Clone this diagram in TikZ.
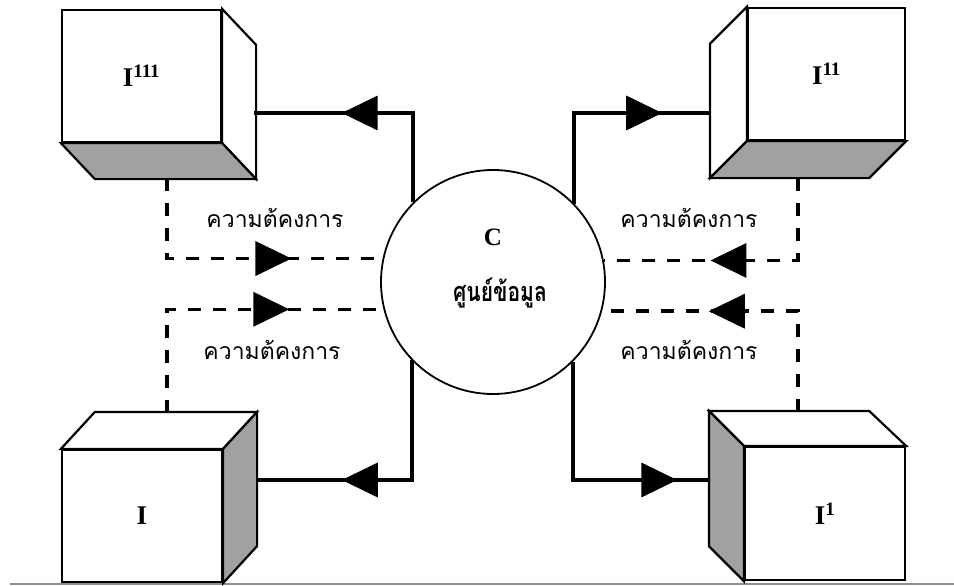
\documentclass[tikz,border=0pt]{standalone}
\usepackage{fontspec}
\setmainfont{Liberation Serif}
\newfontfamily\thaifont[Script=Thai]{Loma}
\usetikzlibrary{arrows.meta,decorations.markings,calc}
\begin{document}
\begin{tikzpicture}[x=1pt,y=-1pt,
  cubeline/.style={draw=black,line width=2.2pt,line join=miter},
  front/.style={cubeline,fill=white,rectangle,inner sep=0pt,font=\bfseries\fontsize{27}{32}\selectfont},
  shaded/.style={cubeline,fill=black!37},
  plain/.style={cubeline,fill=white},
  flow/.style={line width=3.6pt},
  req/.style={line width=3.6pt,dash pattern=on 13pt off 12pt},
  tip/.style={postaction={decorate},decoration={markings,mark=at position #1 with {\arrow{Triangle[length=36pt,width=34pt]}}}},
  lbl/.style={font=\thaifont\fontsize{23}{26}\selectfont,inner sep=0pt},
]
\fill[white] (0,0) rectangle (954,586);
\useasboundingbox (0,0) rectangle (954,586);
\draw[black!45,line width=1.5pt] (10,584) -- (954,584);

% top-left cube I^111
\node[front,minimum width=159pt,minimum height=132pt] (tl) at (141.5,76) {I\textsuperscript{111}};
\draw[plain] (tl.north east) -- ++(34,36) -- ($(tl.south east)+(34,36)$) -- (tl.south east) -- cycle;
\draw[shaded] (tl.south west) -- (tl.south east) -- ++(34,36) -- ($(tl.south west)+(34,36)$) -- cycle;

% top-right cube I^11
\node[front,minimum width=157pt,minimum height=132pt] (tr) at (826.5,74) {I\textsuperscript{11}};
\draw[plain] (tr.north west) -- ++(-37,37) -- ($(tr.south west)+(-37,37)$) -- (tr.south west) -- cycle;
\draw[shaded] (tr.south west) -- (tr.south east) -- ++(-37,37) -- ($(tr.south west)+(-37,37)$) -- cycle;

% bottom-left cube I
\node[front,minimum width=160pt,minimum height=132pt] (bl) at (142,516) {I};
\draw[plain] (bl.north west) -- ++(34,-37) -- ($(bl.north east)+(34,-37)$) -- (bl.north east) -- cycle;
\draw[shaded] (bl.north east) -- ++(34,-37) -- ($(bl.south east)+(34,-37)$) -- (bl.south east) -- cycle;

% bottom-right cube I^1
\node[front,minimum width=160pt,minimum height=133pt] (br) at (825,513.5) {I\textsuperscript{1}};
\draw[plain] (br.north east) -- ++(-37,-35) -- ($(br.north west)+(-35,-35)$) -- (br.north west) -- cycle;
\draw[shaded] (br.north west) -- ++(-35,-35) -- ($(br.south west)+(-35,-35)$) -- (br.south west) -- cycle;

% attachment points
\coordinate (tlS) at (254,113);
\coordinate (tlB) at (167,178);
\coordinate (trS) at (711,113);
\coordinate (trB) at (798,178);
\coordinate (blS) at (256,480);
\coordinate (blT) at (167,413);
\coordinate (brS) at (710,480);
\coordinate (brT) at (798,412);

% centre
\node[draw,circle,line width=1.8pt,minimum size=224pt,inner sep=0pt] (cen) at (493,282) {};
\node[font=\bfseries\fontsize{25}{28}\selectfont,inner sep=0pt] (cenC) at (493,237) {C};
\node[font=\thaifont\bfseries\fontsize{27}{30}\selectfont,inner sep=0pt] (cenT) at (500,293) {\scalebox{0.78}[1]{ศูนย์ข้อมูล}};

% solid flows
\draw[flow,tip=160.6pt] (cen.135.6) |- (tlS);
\draw[flow,tip=178.6pt] (cen.44.4) |- (trS);
\draw[flow,tip=189.6pt] (cen.224.4) |- (blS);
\draw[flow,tip=222.6pt] (cen.315.6) |- (brS);

% dashed requirements
\draw[req,tip=205pt] (tlB) |- (cen.168.67);
\draw[req,tip=226pt] (blT) |- (cen.194.48);
\draw[req,tip=170pt] (trB) |- (cen.11.33);
\draw[req,tip=190pt] (brT) |- (cen.345.52);

% labels
\node[lbl] (l1) at (275,218) {ความต้คงการ};
\node[lbl] (l2) at (272,350) {ความต้คงการ};
\node[lbl] (l3) at (689,218) {ความต้คงการ};
\node[lbl] (l4) at (689,350) {ความต้คงการ};
\end{tikzpicture}
\end{document}
